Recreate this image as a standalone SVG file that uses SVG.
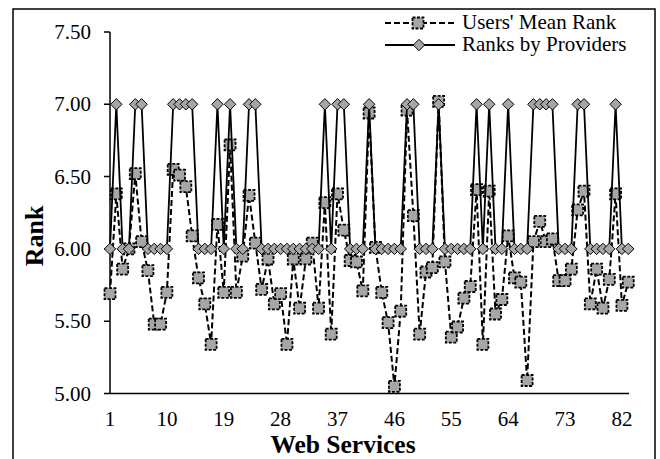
<svg xmlns="http://www.w3.org/2000/svg" xmlns:xlink="http://www.w3.org/1999/xlink" width="660" height="459" viewBox="0 0 660 459">
<style>
text{font-family:"Liberation Serif","Times New Roman",serif;fill:#000}
.tick{font-size:21px}
.ttl{font-size:26px;font-weight:bold}
.leg{font-size:21px}
.axis{stroke:#000;stroke-width:1.5;fill:none}
.users{fill:none;stroke:#000;stroke-width:2;stroke-dasharray:6,3}
.prov{fill:none;stroke:#000;stroke-width:1.8}
</style>
<defs>
<marker id="sq" markerUnits="userSpaceOnUse" markerWidth="16" markerHeight="16" refX="8" refY="8" overflow="visible">
<rect x="2.5" y="2.5" width="11" height="11" fill="#a6a6a6" stroke="#000" stroke-width="1.8" stroke-dasharray="3,1.5"/>
</marker>
<marker id="dm" markerUnits="userSpaceOnUse" markerWidth="16" markerHeight="16" refX="8" refY="8" overflow="visible">
<polygon points="8,2.3 13.7,8 8,13.7 2.3,8" fill="#a6a6a6" stroke="#000" stroke-width="1"/>
</marker>
</defs>
<rect x="13" y="9" width="642" height="470" fill="#fff" stroke="#000" stroke-width="1.5"/>
<g id="axes">
<line class="axis" x1="110" y1="32" x2="110" y2="393.5"/>
<line class="axis" x1="110" y1="393.5" x2="629" y2="393.5"/>
<path class="axis" d="M104,32H110M104,104.3H110M104,176.6H110M104,248.9H110M104,321.2H110M104,393.5H110"/>
<g class="tick" text-anchor="end">
<text x="91" y="39">7.50</text>
<text x="91" y="111.3">7.00</text>
<text x="91" y="183.6">6.50</text>
<text x="91" y="255.9">6.00</text>
<text x="91" y="328.2">5.50</text>
<text x="91" y="400.5">5.00</text>
</g>
<g class="tick" text-anchor="middle">
<text x="110" y="426">1</text>
<text x="166.9" y="426">10</text>
<text x="223.8" y="426">19</text>
<text x="280.6" y="426">28</text>
<text x="337.5" y="426">37</text>
<text x="394.4" y="426">46</text>
<text x="451.3" y="426">55</text>
<text x="508.2" y="426">64</text>
<text x="565" y="426">73</text>
<text x="621.9" y="426">82</text>
</g>
<text class="ttl" x="343" y="453" text-anchor="middle" style="font-size:25.5px">Web Services</text>
<text class="ttl" transform="translate(43,236) rotate(-90)" text-anchor="middle">Rank</text>
</g>
<g id="connectors">
<polyline id="users-line" class="users" marker-start="url(#sq)" marker-mid="url(#sq)" marker-end="url(#sq)" points="110.00,293.7 116.32,193.9 122.64,269.1 128.96,248.9 135.28,173.7 141.60,241.7 147.92,270.6 154.24,324.1 160.56,324.1 166.88,292.3 173.20,169.4 179.52,175.2 185.84,186.7 192.16,235.9 198.48,277.8 204.80,303.9 211.12,344.3 217.44,224.3 223.76,292.3 230.08,144.8 236.40,292.3 242.72,256.1 249.04,195.4 255.36,243.1 261.68,289.4 268.00,259.0 274.32,303.9 280.64,293.7 286.96,344.3 293.28,259.0 299.60,308.2 305.92,259.0 312.24,243.1 318.56,308.2 324.88,202.6 331.20,334.2 337.52,193.9 343.84,230.1 350.16,260.5 356.48,261.9 362.80,290.8 369.12,113.0 375.44,247.4 381.76,292.3 388.08,322.6 394.40,386.3 400.72,311.1 407.04,110.1 413.36,215.6 419.68,334.2 426.00,272.0 432.32,267.7 438.64,101.4 444.96,261.9 451.28,337.1 457.60,327.0 463.92,298.1 470.24,286.5 476.56,189.6 482.88,344.3 489.20,191.1 495.52,314.0 501.84,299.5 508.16,235.9 514.48,277.8 520.80,282.2 527.12,380.5 533.44,241.7 539.76,221.4 546.08,241.7 552.40,238.8 558.72,280.7 565.04,280.7 571.36,269.1 577.68,209.9 584.00,191.1 590.32,303.9 596.64,269.1 602.96,308.2 609.28,279.3 615.60,193.9 621.92,305.3 628.24,282.2"/>
<polyline id="providers-line" class="prov" marker-start="url(#dm)" marker-mid="url(#dm)" marker-end="url(#dm)" points="110.00,248.9 116.32,104.3 122.64,248.9 128.96,248.9 135.28,104.3 141.60,104.3 147.92,248.9 154.24,248.9 160.56,248.9 166.88,248.9 173.20,104.3 179.52,104.3 185.84,104.3 192.16,104.3 198.48,248.9 204.80,248.9 211.12,248.9 217.44,104.3 223.76,248.9 230.08,104.3 236.40,248.9 242.72,248.9 249.04,104.3 255.36,104.3 261.68,248.9 268.00,248.9 274.32,248.9 280.64,248.9 286.96,248.9 293.28,248.9 299.60,248.9 305.92,248.9 312.24,248.9 318.56,248.9 324.88,104.3 331.20,248.9 337.52,104.3 343.84,104.3 350.16,248.9 356.48,248.9 362.80,248.9 369.12,104.3 375.44,248.9 381.76,248.9 388.08,248.9 394.40,248.9 400.72,248.9 407.04,104.3 413.36,104.3 419.68,248.9 426.00,248.9 432.32,248.9 438.64,104.3 444.96,248.9 451.28,248.9 457.60,248.9 463.92,248.9 470.24,248.9 476.56,104.3 482.88,248.9 489.20,104.3 495.52,248.9 501.84,248.9 508.16,104.3 514.48,248.9 520.80,248.9 527.12,248.9 533.44,104.3 539.76,104.3 546.08,104.3 552.40,104.3 558.72,248.9 565.04,248.9 571.36,248.9 577.68,104.3 584.00,104.3 590.32,248.9 596.64,248.9 602.96,248.9 609.28,248.9 615.60,104.3 621.92,248.9 628.24,248.9"/>
</g>
<g id="legend">
<polyline class="users" points="385,23 418,23 455,23" marker-mid="url(#sq)"/>
<polyline class="prov" points="385,45 419,45 455,45" marker-mid="url(#dm)"/>
<text class="leg" x="462" y="29">Users' Mean Rank</text>
<text class="leg" x="462" y="51">Ranks by Providers</text>
</g>
</svg>
